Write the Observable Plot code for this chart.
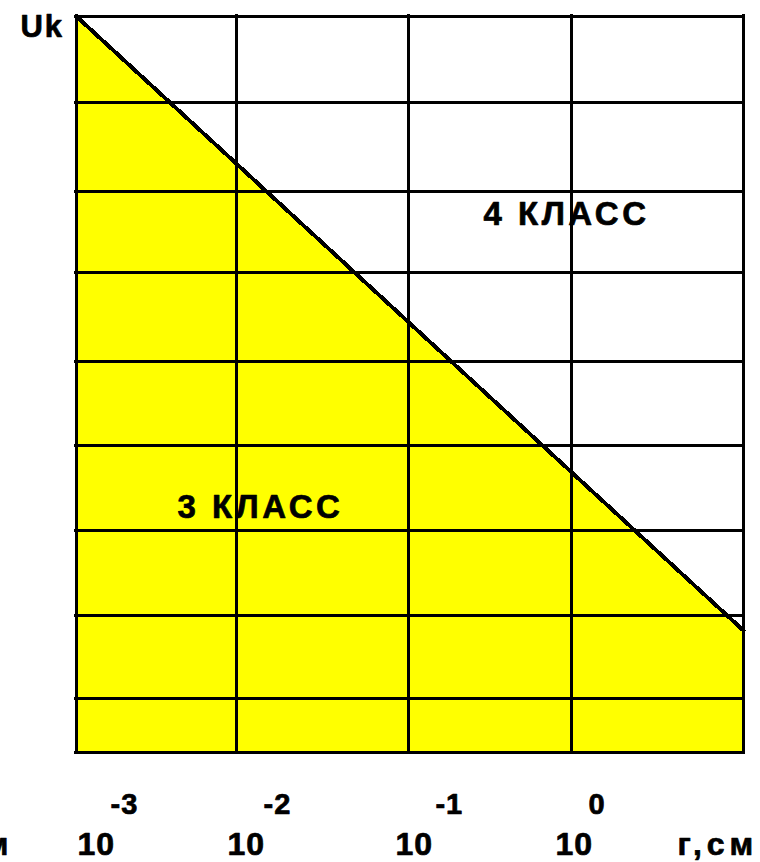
<!DOCTYPE html>
<html><head><meta charset="utf-8">
<script src="https://cdn.jsdelivr.net/npm/d3@7"></script>
<script src="https://cdn.jsdelivr.net/npm/@observablehq/plot@0.6"></script>
<style>
body{margin:0;background:#fff}
#chart svg{background:#fff}
</style>
</head><body><div id="chart"></div>
<script>
// chart units: x in grid columns (0..4), y as fraction of plot height (0..1)
const gridX = [0, 0.962, 1.993, 2.969, 4];
const gridY = [0, 0.0727, 0.1848, 0.3003, 0.4158, 0.5312, 0.6515, 0.7622, 0.8818, 1];
const boundaryX = [0, 4];
const boundaryY = [1, 0.165];
const exponents = ["-3", "-2", "-1", "0"];
const expPos = [0.207, 1.124, 2.154, 3.071];
const basePos = [0.009, 0.908, 1.915, 2.873];
const classNames = ["4 КЛАСС", "3 КЛАСС"];
const classX = [2.442, 0.608];
const classY = [0.7154, 0.3186];
const yTitle = "Uk";
const xTitle = "г,см";

const boundary = boundaryX.map((x, i) => ({x, y: boundaryY[i]}));
const expData = exponents.map((t, i) => ({t, x: expPos[i]}));
const baseData = basePos.map(x => ({t: "10", x}));
const classData = classNames.map((t, i) => ({t, x: classX[i], y: classY[i]}));

const font = {fontFamily: "'Liberation Sans', Arial, sans-serif", fontWeight: "bold", fill: "black", stroke: "black", strokeWidth: 0.7, textAnchor: "start", lineAnchor: "bottom"};

const chart = Plot.plot({
  width: 760,
  height: 862,
  marginLeft: 75.5,
  marginRight: 17,
  marginTop: 15.5,
  marginBottom: 110.5,
  x: {domain: [0, 4], axis: null},
  y: {domain: [0, 1], axis: null},
  style: {background: "#fff", overflow: "visible"},
  marks: [
    Plot.areaY(boundary, {x: "x", y1: 0, y2: "y", fill: "#ffff00"}),
    Plot.ruleY(gridY, {x1: 0, x2: 4, stroke: "black", strokeWidth: 3, strokeLinecap: "square", shapeRendering: "crispEdges"}),
    Plot.ruleX(gridX, {y1: 0, y2: 1, stroke: "black", strokeWidth: 3, strokeLinecap: "square", shapeRendering: "crispEdges"}),
    Plot.line(boundary, {x: "x", y: "y", stroke: "black", strokeWidth: 4, shapeRendering: "crispEdges"}),
    Plot.text(classData, {x: "x", y: "y", text: "t", fontSize: 33, ...font}),
    Plot.text([yTitle], {x: -0.333, y: 0.9708, text: d => d, fontSize: 31, ...font}),
    Plot.text(expData, {x: "x", y: -0.0836, text: "t", fontSize: 29, ...font}),
    Plot.text(baseData, {x: "x", y: -0.1406, text: "t", fontSize: 32, ...font}),
    Plot.text([xTitle], {x: 3.604, y: -0.1406, text: d => d, fontSize: 32, ...font}),
    Plot.text([xTitle], {x: -0.3745, y: -0.1406, text: d => d, fontSize: 32, ...font, textAnchor: "end"})
  ]
});
d3.select(chart).selectAll("text").each(function() {
  const t = this.textContent;
  let ls = 1;
  if (t.includes("КЛАСС")) ls = 3.5;
  else if (t === xTitle) ls = 5;
  else if (t === yTitle) ls = 2;
  this.setAttribute("letter-spacing", ls + "px");
});
document.getElementById("chart").appendChild(chart);
</script>
</body></html>
